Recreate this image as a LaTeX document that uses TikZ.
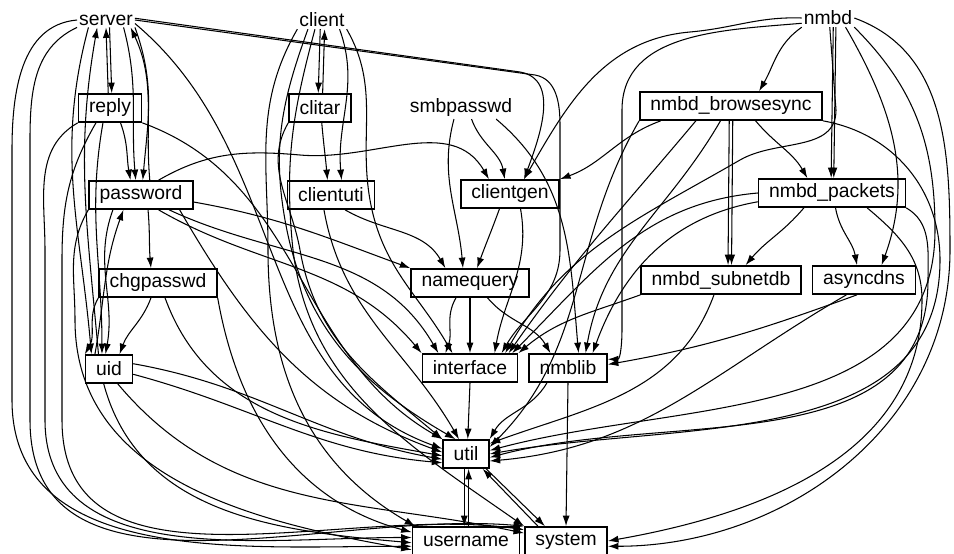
\documentclass[tikz,border=0pt]{standalone}
\usepackage{fontspec}
\setmainfont{Liberation Sans}
\usetikzlibrary{arrows.meta,positioning}

\begin{document}
\begin{tikzpicture}[
			x = 0.02cm, y = -0.02cm,
			every node/.style = {font=\fontsize{11}{13}\selectfont},
			modbox/.style = {draw, line width=0.9pt, inner xsep=6pt, inner ysep=0pt, minimum height=16pt},
			modtext/.style = {inner sep=1pt},
			dep/.style = {-{Latex[length=6pt,width=4pt]}, line width=0.6pt}
			]

			\useasboundingbox (0,0) rectangle (954,554);

			% modules
			\node[modtext] (server) at (106,20) {server};
			\node[modtext] (client) at (322,20) {client};
			\node[modtext] (nmbd) at (828,18) {nmbd};
			\node[modtext] (smbpasswd) at (461,108) {smbpasswd};
			\node[modbox] (reply) at (110,108) {reply};
			\node[modbox] (clitar) at (320,108) {clitar};
			\node[modbox] (brsync) at (731,106) {nmbd\_browsesync};
			\node[modbox] (password) at (141,195) {password};
			\node[modbox] (clientuti) at (331,195) {clientuti};
			\node[modbox] (clientgen) at (510,194) {clientgen};
			\node[modbox] (packets) at (832,193) {nmbd\_packets};
			\node[modbox] (chgpasswd) at (158,283) {chgpasswd};
			\node[modbox] (namequery) at (470,283) {namequery};
			\node[modbox] (subnetdb) at (721,280) {nmbd\_subnetdb};
			\node[modbox] (asyncdns) at (864,280) {asyncdns};
			\node[modbox] (uid) at (109,369) {uid};
			\node[modbox] (interface) at (470,368) {interface};
			\node[modbox] (nmblib) at (568,368) {nmblib};
			\node[modbox] (util) at (466,454) {util};
			\node[modbox] (username) at (466,541) {username};
			\node[modbox] (system) at (566,541) {system};

			% server
			\draw[dep] ([xshift=2pt]server.south) -- ([xshift=1pt]reply.north);
			\draw[dep] ([xshift=-1pt]reply.north) -- ([xshift=0pt]server.south);
			\draw[dep] ([xshift=10pt]server.south) to[out=-75,in=95] ([xshift=-3pt]password.north);
			\draw[dep] (server.south east) to[out=-70,in=85] ([xshift=1pt]password.north);
			\draw[dep] ([xshift=5pt]password.north) to[out=95,in=-65] ([xshift=14pt]server.south);
			\draw[dep] ([xshift=-6pt]uid.north) to[out=95,in=-100] ([xshift=-5pt]server.south);
			\draw[dep] ([xshift=-10pt]server.south) to[out=-105,in=95] ([xshift=-10pt]uid.north);
			\draw[dep] (server.west) to[out=185,in=90] (12,150) -- (12,400) to[out=-90,in=180] ([yshift=-3pt]username.west);
			\draw[dep] (server.south west) to[out=205,in=90] (30,160) -- (30,420) to[out=-90,in=175] (system.north west);
			\draw[dep] ([yshift=-2pt]server.east) to[out=-40,in=160] ([yshift=3pt]util.west);
			\draw[dep] (server.east) -- (535,75) to[out=-10,in=90] (560,125) -- (560,250) to[out=-90,in=60] ([xshift=18pt]interface.north);
			\draw[dep] ([yshift=1pt]server.east) -- (520,72) to[out=-10,in=70] ([xshift=8pt]clientgen.north);

			% reply, password, chgpasswd, uid
			\draw[dep] ([xshift=-4pt]reply.south) to[out=-100,in=90] ([xshift=-4pt]uid.north);
			\draw[dep] (reply.south west) to[out=210,in=90] (45,250) -- (45,420) to[out=-90,in=180] ([yshift=2pt]username.west);
			\draw[dep] ([xshift=-8pt]reply.south) to[out=-120,in=90] (62,260) -- (62,420) to[out=-90,in=172] ([yshift=-2pt]system.north west);
			\draw[dep] ([xshift=6pt]reply.south) to[out=-70,in=100] ([xshift=-6pt]password.north);
			\draw[dep] (reply.south east) to[out=-20,in=150] (util.north west);
			\draw[dep] ([xshift=10pt]password.north) to[out=30,in=175] (300,155) to[out=-5,in=120] ([xshift=-12pt]clientgen.north);
			\draw[dep] ([yshift=-4pt]password.east) to[out=-10,in=160] (namequery.north west);
			\draw[dep] ([xshift=10pt]password.south) to[out=-30,in=130] (interface.north west);
			\draw[dep] ([xshift=16pt]password.south) to[out=-25,in=120] ([xshift=-18pt]interface.north);
			\draw[dep] ([xshift=4pt]password.south) to[out=-85,in=95] ([xshift=-4pt]chgpasswd.north);
			\draw[dep] ([xshift=-16pt]password.south) to[out=-110,in=80] ([xshift=-2pt]uid.north);
			\draw[dep] ([xshift=-8pt]uid.north) to[out=80,in=-110] ([xshift=-10pt]password.south);
			\draw[dep] ([xshift=22pt]password.south) to[out=-60,in=160] ([yshift=1pt]util.west);
			\draw[dep] (password.south west) to[out=-120,in=90] (75,320) to[out=-90,in=170] ([yshift=-5pt]username.west);
			\draw[dep] ([xshift=-4pt]chgpasswd.south) to[out=-110,in=70] ([xshift=6pt]uid.north);
			\draw[dep] (chgpasswd.south west) to[out=-120,in=60] (uid.north west);
			\draw[dep] ([xshift=4pt]chgpasswd.south) to[out=-70,in=170] ([yshift=-1pt]util.west);
			\draw[dep] (chgpasswd.south east) to[out=-80,in=165] ([yshift=5pt]username.west);
			\draw[dep] ([yshift=3pt]uid.east) to[out=-10,in=170] ([yshift=-3pt]util.west);
			\draw[dep] ([yshift=-3pt]uid.east) to[out=-15,in=175] ([yshift=-5pt]util.west);
			\draw[dep] ([xshift=-3pt]uid.south) to[out=-75,in=175] ([yshift=-1pt]username.west);
			\draw[dep] ([xshift=5pt]uid.south) to[out=-50,in=168] ([yshift=-4pt]system.north west);

			% client, clitar, clientuti
			\draw[dep] ([xshift=-1pt]client.south) -- ([xshift=-1pt]clitar.north);
			\draw[dep] ([xshift=1.5pt]clitar.north) -- ([xshift=1.5pt]client.south);
			\draw[dep] ([xshift=10pt]client.south) to[out=-70,in=95] ([xshift=6pt]clientuti.north);
			\draw[dep] ([xshift=1pt]clitar.south) to[out=-85,in=95] ([xshift=-2pt]clientuti.north);
			\draw[dep] ([xshift=-8pt]client.south) to[out=-110,in=100] (285,220) to[out=-80,in=150] ([xshift=-6pt]util.north);
			\draw[dep] (client.south east) to[out=-60,in=100] (370,200) to[out=-80,in=120] ([xshift=-10pt]interface.north);
			\draw[dep] (client.south west) to[out=-120,in=90] (268,250) to[out=-90,in=150] ([xshift=2pt]username.north west);
			\draw[dep] ([xshift=-4pt]client.south) to[out=-105,in=95] (292,240) to[out=-85,in=145] (system.north west);
			\draw[dep] (clitar.south west) to[out=-120,in=100] (300,250) to[out=-80,in=140] (util.north west);
			\draw[dep] ([xshift=8pt]clientuti.south) to[out=-30,in=120] ([xshift=-14pt]namequery.north);
			\draw[dep] ([xshift=-4pt]clientuti.south) to[out=-80,in=120] ([xshift=-4pt]util.north);

			% smbpasswd, clientgen, namequery
			\draw[dep] ([xshift=6pt]smbpasswd.south) to[out=-70,in=100] ([xshift=-3pt]clientgen.north);
			\draw[dep] ([xshift=-4pt]smbpasswd.south) to[out=-105,in=95] ([xshift=-4pt]namequery.north);
			\draw[dep] ([xshift=20pt]smbpasswd.south) to[out=-40,in=95] ([xshift=6pt]nmblib.north);
			\draw[dep] ([xshift=-6pt]clientgen.south) to[out=-110,in=70] ([xshift=4pt]namequery.north);
			\draw[dep] ([xshift=6pt]clientgen.south) to[out=-80,in=80] ([xshift=14pt]interface.north);
			\draw[dep] ([xshift=-8pt]namequery.south) to[out=-120,in=70] ([xshift=-14pt]interface.north);
			\draw[dep] (namequery.south) -- (interface.north);
			\draw[dep] ([xshift=10pt]namequery.south) to[out=-50,in=120] ([xshift=-10pt]nmblib.north);

			% interface, nmblib, util
			\draw[dep] (interface.south) -- ([xshift=1pt]util.north);
			\draw[dep] ([xshift=-12pt]nmblib.south) to[out=-120,in=60] (util.north east);
			\draw[dep] (nmblib.south) -- (system.north);
			\draw[dep] ([xshift=-1pt]util.south) -- ([xshift=-1pt]username.north);
			\draw[dep] ([xshift=1.5pt]username.north) -- ([xshift=1.5pt]util.south);
			\draw[dep] ([xshift=-2pt]util.south east) -- ([xshift=-12pt]system.north);
			\draw[dep] ([xshift=-16pt]system.north) -- ([xshift=-4pt]util.south east);

			% nmbd
			\draw[dep] (nmbd.south west) to[out=-145,in=60] ([xshift=16pt]brsync.north);
			\draw[dep] ([xshift=3pt]nmbd.south) -- ([xshift=-0.5pt]packets.north);
			\draw[dep] ([xshift=4.5pt]nmbd.south) -- ([xshift=1pt]packets.north);
			\draw[dep] ([xshift=10pt]nmbd.south) to[out=-60,in=70] ([xshift=10pt]asyncdns.north);
			\draw[dep] (nmbd.west) to[out=178,in=5] (690,32) to[out=-175,in=60] ([xshift=8pt]clientgen.north);
			\draw[dep] ([yshift=-3pt]nmbd.west) to[out=185,in=90] (622,110) -- (622,330) to[out=-90,in=0] ([yshift=5pt]nmblib.east);
			\draw[dep] ([xshift=1pt]nmbd.south) -- (836,110) to[out=-90,in=30] (740,160) to[out=-150,in=60] ([xshift=20pt]interface.north);
			\draw[dep] (nmbd.south east) to[out=-45,in=90] (935,230) to[out=-90,in=15] ([yshift=2pt]util.east);
			\draw[dep] (nmbd.east) to[out=-20,in=90] (950,250) to[out=-90,in=0] ([yshift=-3pt]system.east);

			% browsesync, packets
			\draw[dep] ([xshift=-40pt]brsync.south) to[out=-160,in=20] (clientgen.north east);
			\draw[dep] ([xshift=14pt]brsync.south) to[out=-50,in=120] ([xshift=-14pt]packets.north);
			\draw[dep] ([xshift=-1pt]brsync.south) -- ([xshift=4pt]subnetdb.north);
			\draw[dep] ([xshift=1pt]brsync.south) -- ([xshift=6pt]subnetdb.north);
			\draw[dep] ([xshift=-20pt]brsync.south) to[out=-130,in=55] ([xshift=22pt]interface.north);
			\draw[dep] ([xshift=-6pt]brsync.south) to[out=-120,in=80] ([xshift=10pt]nmblib.north);
			\draw[dep] (brsync.south west) to[out=-120,in=45] ([yshift=4pt]util.east);
			\draw[dep] (brsync.south east) to[out=-10,in=90] (940,260) to[out=-90,in=10] (util.east);
			\draw[dep] ([xshift=-16pt]packets.south) to[out=-130,in=50] ([xshift=14pt]subnetdb.north);
			\draw[dep] ([xshift=2pt]packets.south) to[out=-80,in=100] ([xshift=-4pt]asyncdns.north);
			\draw[dep] (packets.west) to[out=185,in=45] ([xshift=24pt]interface.north);
			\draw[dep] ([yshift=-5pt]packets.west) to[out=190,in=70] ([xshift=14pt]nmblib.north);
			\draw[dep] (packets.south east) to[out=-30,in=90] (928,280) to[out=-90,in=15] ([yshift=-2pt]util.east);
			\draw[dep] ([xshift=20pt]packets.south) to[out=-40,in=90] (922,300) to[out=-90,in=10] (system.east);

			% subnetdb, asyncdns
			\draw[dep] (subnetdb.south west) to[out=-160,in=40] (interface.north east);
			\draw[dep] ([xshift=-4pt]subnetdb.south) to[out=-110,in=20] ([yshift=6pt]util.east);
			\draw[dep] ([xshift=-4pt]asyncdns.south) to[out=-160,in=10] ([yshift=2pt]nmblib.east);
			\draw[dep] ([xshift=-10pt]asyncdns.south) to[out=-150,in=5] ([yshift=-4pt]util.east);

		\end{tikzpicture}
\end{document}
